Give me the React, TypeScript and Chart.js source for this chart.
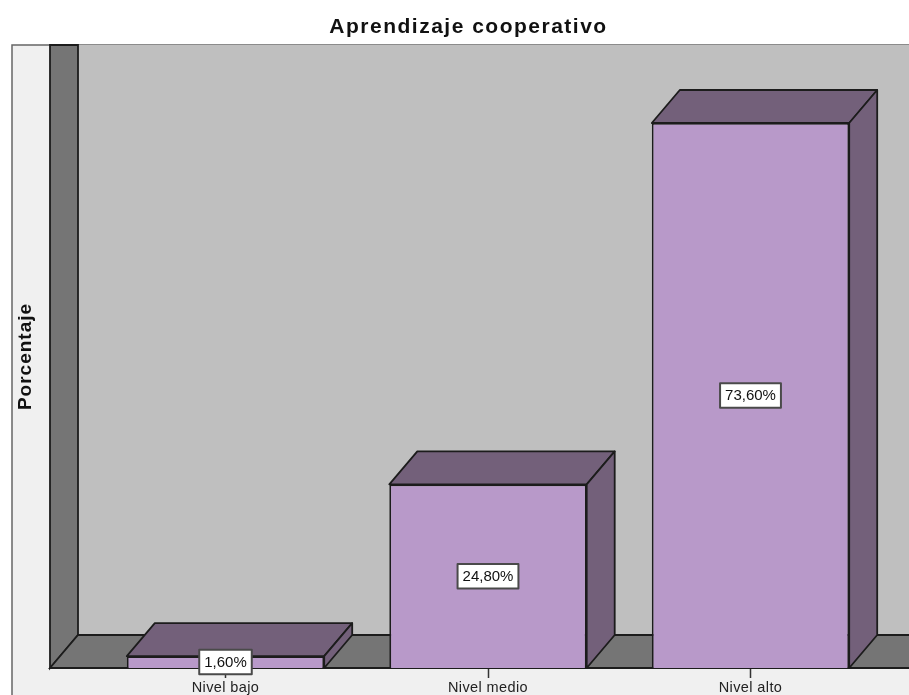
import React, { useEffect, useRef } from "react";
import { Chart, registerables } from "chart.js";

Chart.register(...registerables);

const categories = ["Nivel bajo", "Nivel medio", "Nivel alto"];
const percentages = [1.6, 24.8, 73.6];
const chartTitle = "Aprendizaje cooperativo";
const axisTitle = "Porcentaje";

const FONT = "'Liberation Sans', Arial, sans-serif";
const DEPTH_X = 28;
const DEPTH_Y = 33;
const WALL_INSET = 44.25;
const LINE = "#1C1C1C";
const FRONT = "#B899C9";
const SHADE = "#73607A";
const WALL = "#757575";
const BACK = "#BFBFBF";
const PANEL = "#F0F0F0";

function spaced(target: any, method: string, spacing: string) {
  const flag = "__spaced_" + method;
  if (!target || target[flag]) return;
  target[flag] = true;
  const original = target[method];
  target[method] = function (...args: any[]) {
    const ctx = this.ctx;
    const previous = ctx.letterSpacing;
    ctx.letterSpacing = spacing;
    original.apply(this, args);
    ctx.letterSpacing = previous;
  };
}

function poly(ctx: CanvasRenderingContext2D, pts: number[][], fill: string) {
  ctx.beginPath();
  pts.forEach((p, i) => (i ? ctx.lineTo(p[0], p[1]) : ctx.moveTo(p[0], p[1])));
  ctx.closePath();
  ctx.fillStyle = fill;
  ctx.fill();
  ctx.stroke();
}

const scenePlugin = {
  id: "scene3d",
  afterLayout(chart: any) {
    chart.titleBlock.left = 0;
    chart.titleBlock.right = chart.width;
    spaced(chart.titleBlock, "draw", "1.5px");
    spaced(chart.scales.y, "drawTitle", "1px");
    spaced(chart.scales.x, "drawLabels", "0.4px");
  },
  beforeDraw(chart: any) {
    const { ctx, width, height, chartArea: a } = chart;
    ctx.save();
    ctx.fillStyle = "#FFFFFF";
    ctx.fillRect(0, 0, width, height);
    ctx.fillStyle = PANEL;
    ctx.strokeStyle = "#666666";
    ctx.lineWidth = 1.5;
    ctx.fillRect(12, a.top, width, height);
    ctx.beginPath();
    ctx.moveTo(12, height);
    ctx.lineTo(12, a.top);
    ctx.lineTo(width, a.top);
    ctx.stroke();
    ctx.restore();
  },
  beforeDatasetsDraw(chart: any) {
    const { ctx, width, chartArea: a } = chart;
    const x0 = a.left - WALL_INSET;
    const yBase = chart.scales.y.getPixelForValue(0);
    ctx.save();
    ctx.strokeStyle = LINE;
    ctx.lineWidth = 1.8;
    ctx.fillStyle = BACK;
    ctx.fillRect(x0 + DEPTH_X, a.top, width, yBase - DEPTH_Y - a.top);
    poly(ctx, [[x0, a.top], [x0 + DEPTH_X, a.top], [x0 + DEPTH_X, yBase - DEPTH_Y], [x0, yBase]], WALL);
    poly(ctx, [[x0, yBase], [x0 + DEPTH_X, yBase - DEPTH_Y], [width + 40, yBase - DEPTH_Y], [width + 40, yBase]], WALL);
    ctx.restore();
  },
  afterDatasetsDraw(chart: any) {
    const { ctx } = chart;
    const bars = chart.getDatasetMeta(0).data;
    ctx.save();
    ctx.strokeStyle = LINE;
    ctx.lineWidth = 1.8;
    ctx.lineJoin = "round";
    bars.forEach((b: any) => {
      const l = b.x - b.width / 2;
      const r = b.x + b.width / 2;
      poly(ctx, [[l, b.y], [l + DEPTH_X, b.y - DEPTH_Y], [r + DEPTH_X, b.y - DEPTH_Y], [r, b.y]], SHADE);
      poly(ctx, [[r, b.y], [r + DEPTH_X, b.y - DEPTH_Y], [r + DEPTH_X, b.base - DEPTH_Y], [r, b.base]], SHADE);
    });
    ctx.font = `15px ${FONT}`;
    ctx.textAlign = "center";
    ctx.textBaseline = "middle";
    ctx.lineWidth = 2;
    bars.forEach((b: any, i: number) => {
      const text = percentages[i].toFixed(2).replace(".", ",") + "%";
      const w = ctx.measureText(text).width + 10;
      const h = 24.5;
      const cy = (b.y + b.base) / 2;
      ctx.fillStyle = "#FFFFFF";
      ctx.strokeStyle = "#4A4A4A";
      ctx.fillRect(b.x - w / 2, cy - h / 2, w, h);
      ctx.strokeRect(b.x - w / 2, cy - h / 2, w, h);
      ctx.fillStyle = "#111111";
      ctx.fillText(text, b.x, cy + 0.5);
    });
    ctx.restore();
  },
};

export default function App() {
  const ref = useRef<HTMLCanvasElement>(null);

  useEffect(() => {
    const chart = new Chart(ref.current!, {
      type: "bar",
      data: {
        labels: categories,
        datasets: [
          {
            data: percentages,
            backgroundColor: FRONT,
            borderColor: LINE,
            borderWidth: 1.8,
            barPercentage: 0.752,
            categoryPercentage: 1,
          },
        ],
      },
      plugins: [scenePlugin],
      options: {
        animation: false,
        responsive: false,
        layout: { padding: { left: 0, top: 0, bottom: 0, right: 55.25 } },
        plugins: {
          legend: { display: false },
          tooltip: { enabled: false },
          title: {
            display: true,
            text: chartTitle,
            color: "#111111",
            font: { family: FONT, size: 21, weight: "bold", lineHeight: 1.2 },
            padding: { top: 14.4, bottom: 5.4 },
          },
        },
        scales: {
          x: {
            afterFit: (s: any) => {
              s.height = 27;
            },
            border: { display: false },
            grid: {
              offset: false,
              drawOnChartArea: false,
              drawTicks: true,
              tickLength: 10,
              tickColor: "#333333",
              tickWidth: 1.5,
            },
            ticks: {
              autoSkip: false,
              maxRotation: 0,
              padding: 1,
              color: "#222222",
              font: { family: FONT, size: 14.5 },
            },
          },
          y: {
            min: 0,
            max: 84.13,
            afterFit: (s: any) => {
              s.width = 94.25;
            },
            border: { display: false },
            grid: { display: false },
            ticks: { display: false },
            title: {
              display: true,
              text: axisTitle,
              color: "#111111",
              font: { family: FONT, size: 19, weight: "bold" },
              padding: { top: 14, bottom: 0 },
            },
          },
        },
      },
    } as any);
    return () => chart.destroy();
  }, []);

  return (
    <div style={{ position: "fixed", left: 0, top: 0, width: 909, height: 695, overflow: "hidden", background: "#fff" }}>
      <canvas ref={ref} width={937} height={695} style={{ display: "block", width: 937, height: 695 }} />
    </div>
  );
}
